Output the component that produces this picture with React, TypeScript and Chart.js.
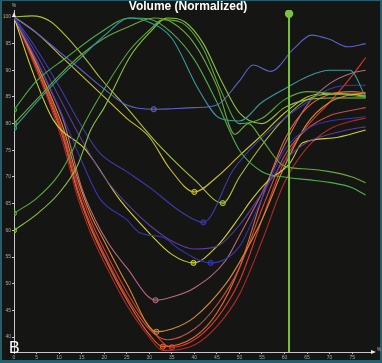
import { useEffect, useRef } from 'react';
import { Chart, registerables } from 'chart.js';

Chart.register(...registerables);

// ---- tick labels ----
const xTicks = [0, 5, 10, 15, 20, 25, 30, 35, 40, 45, 50, 55, 60, 65, 70, 75];
const yTicks = [40, 45, 50, 55, 60, 65, 70, 75, 80, 85, 90, 95, 100];
const titleText = 'Volume (Normalized)';
const panelLabel = 'B';
const unitLabel = '%';
const cursorX = 61;

// ---- series: [x (%), volume (normalized)] ----
const red1 = [[0, 100], [4, 93], [8, 85], [11, 78], [14, 69], [17, 62], [20, 56.5], [25, 48.5], [30, 42], [35, 38.1], [40, 39.5], [45, 43.5], [50, 50.5], [55, 62], [60, 73], [65, 79.5], [70, 84], [75, 89], [78, 92.4]];
const orange1 = [[0, 100], [4, 92.5], [8, 84], [11, 77], [14, 67.5], [17, 60.5], [20, 55], [25, 47], [30, 40.5], [33, 38.2], [40, 40], [45, 44.5], [50, 53], [55, 66], [60, 77], [65, 83], [70, 85.5], [75, 86], [78, 85.8]];
const orange2 = [[0, 100], [4, 93], [8, 85.5], [11, 79], [14, 70], [17, 63], [20, 58], [25, 50], [31.6, 41], [35, 41.5], [40, 43.7], [47, 50], [50, 54], [55, 62], [60, 72], [65, 80], [70, 84], [75, 85.5], [78, 85.7]];
const pink1 = [[0, 100], [4, 93.5], [8, 86.5], [11, 80.5], [15, 68], [18, 62], [21, 57.5], [25, 53], [31.4, 46.9], [35, 47.5], [40, 49.2], [47, 54.4], [50, 59], [55, 67], [60, 76], [65, 83.5], [70, 87.5], [75, 89.5], [78, 90]];
const red2 = [[0, 100], [4, 92], [8, 83.5], [11, 76], [14, 66.5], [17, 59.5], [20, 54], [25, 46], [30, 40], [33, 37.5], [40, 38.5], [45, 42], [50, 48], [55, 58], [60, 69], [65, 75.5], [70, 79], [75, 80.5], [78, 81]];
const red3 = [[0, 100], [4, 92.5], [8, 84.5], [11, 77.5], [14, 68], [17, 61], [20, 55.5], [25, 47.5], [30, 41.5], [34, 39.5], [40, 41.5], [45, 46], [50, 53], [55, 64], [60, 74], [65, 79], [70, 81.5], [75, 82.5], [78, 83]];
const blue1 = [[0, 100], [5, 97], [10, 93.5], [15, 90], [20, 86.5], [25, 83.5], [31, 82.7], [35, 82.8], [40, 83], [45, 83.5], [50, 88], [53, 91], [57, 89.8], [62, 94], [66, 96.6], [70, 95.8], [74, 94.4], [78, 95]];
const blue2 = [[0, 100], [5, 94], [10, 87], [15, 79.5], [19, 74.5], [25, 71], [30, 68.1], [37.5, 63.2], [42, 61.5], [48.6, 71.3], [54.5, 77], [60, 81], [65, 84], [70, 86.5], [75, 87.2], [78, 87.2]];
const blue3 = [[0, 100], [5, 92], [10, 83], [15, 73], [19, 66], [25, 62], [28, 59.5], [33, 58.7], [37, 56.3], [43.6, 53.9], [50, 57], [55, 66], [60, 75], [65, 79], [70, 80.5], [75, 81], [78, 81.3]];
const purple1 = [[0, 100], [5, 93], [10, 85], [15, 77], [20, 70], [25, 65], [30, 61], [35, 58], [40, 56.5], [45, 57], [50, 61], [55, 67], [60, 73], [65, 76.5], [70, 78], [75, 79], [78, 79.4]];
const yellow1 = [[0, 100], [5, 97], [10, 93], [15, 89], [20, 85], [25, 81], [30, 77.5], [34.6, 71.5], [40, 67.2], [45, 70], [50, 74], [54.5, 77.5], [60, 82], [65, 85], [70, 85.7], [75, 85.5], [78, 85.3]];
const olive1 = [[0, 100], [4, 100.2], [8, 99.2], [12, 96], [16, 92], [19, 88.7], [25, 83], [31, 77], [35, 73.5], [40, 69.5], [46.3, 65.1], [50, 70], [55, 76], [60, 81], [65, 84.5], [70, 85.5], [75, 85.5], [78, 85]];
const yellow2 = [[0, 100], [4, 90], [8.7, 80.7], [16, 75], [23.5, 65.7], [30, 59.5], [35, 55.5], [39.8, 53.9], [45, 57], [50, 62.5], [52.3, 65.3], [56, 69], [61.2, 72.6], [64, 76.4], [70.7, 77.3], [78, 78.8]];
const teal1 = [[0, 79.2], [5, 84], [10, 88.5], [15, 92.5], [20, 96.5], [25.7, 99.8], [30, 99], [35, 96], [41, 86.3], [45.7, 81], [50, 80.5], [55, 84], [60, 86.5], [65, 88.8], [70, 90], [74.5, 90], [78, 85]];
const green1 = [[0, 82.6], [5, 88], [11.8, 92.5], [19, 97], [25.7, 99.8], [30, 99.6], [35, 97], [40, 92], [45, 84], [50, 75], [55, 71], [60, 70], [65, 69.5], [70, 69], [75, 68], [78, 66.6]];
const green2 = [[0, 80], [5, 84.5], [10, 89], [15, 93], [20, 96], [25, 98], [31, 99.8], [35, 99], [40, 95], [45, 87], [49, 78], [52, 80], [55, 77], [60, 72], [65, 71.5], [70, 71], [75, 70], [78, 68.9]];
const green3 = [[0, 63.2], [5, 66], [10, 70.5], [13, 75], [15, 79], [20, 86.5], [25.7, 93.8], [30, 97.5], [33, 99.5], [37, 99], [42, 94], [46, 86], [50, 80], [55, 81], [60, 84.5], [65, 86], [70, 85.7], [78, 85]];
const lime1 = [[0, 60], [5, 63], [10, 67], [14, 72], [17, 78.8], [20, 83], [25.7, 92.5], [30, 97], [34, 99.8], [38, 99], [42, 95], [46, 88], [50, 82], [55, 80], [60, 83], [65, 84.5], [70, 84.8], [78, 84.8]];

// index of the marked point of each series (-1 = none)
const series = [
  { pts: teal1, color: '#3a9a9c', marker: 0 },
  { pts: green1, color: '#4cae4e', marker: 0 },
  { pts: green2, color: '#6aa83c', marker: 0 },
  { pts: green3, color: '#5aa838', marker: 0 },
  { pts: lime1, color: '#8cc040', marker: 0 },
  { pts: blue1, color: '#5a64c8', marker: 6 },
  { pts: blue2, color: '#3c3caa', marker: 8 },
  { pts: blue3, color: '#3636b2', marker: 9 },
  { pts: purple1, color: '#5a3c9c', marker: -1 },
  { pts: yellow1, color: '#c8c030', marker: 8 },
  { pts: olive1, color: '#a8c040', marker: 10 },
  { pts: yellow2, color: '#d0d038', marker: 7 },
  { pts: pink1, color: '#b86a82', marker: 8 },
  { pts: orange2, color: '#d88a30', marker: 8 },
  { pts: red3, color: '#c85040', marker: -1 },
  { pts: red2, color: '#b02a2a', marker: -1 },
  { pts: orange1, color: '#e8682a', marker: 9 },
  { pts: red1, color: '#d83a2e', marker: 9 },
];

const X_MIN = 0;
const X_MAX = 79.4;
const Y_MIN = 37.2;
const Y_MAX = 101.3;

function withAlpha(hex: string, a: number) {
  const n = parseInt(hex.slice(1), 16);
  return `rgba(${(n >> 16) & 255},${(n >> 8) & 255},${n & 255},${a})`;
}

const overlay = {
  id: 'overlay',
  beforeDraw(chart: any) {
    const { ctx, width, height } = chart;
    ctx.save();
    ctx.fillStyle = '#22606e';
    ctx.fillRect(0, 0, width, height);
    ctx.fillStyle = '#151513';
    ctx.fillRect(2, 1, width - 4, height - 4);
    ctx.restore();
  },
  afterDraw(chart: any) {
    const { ctx, chartArea } = chart;
    const xs = chart.scales.x;
    const ys = chart.scales.y;
    ctx.save();
    // title
    ctx.fillStyle = '#ffffff';
    ctx.font = "bold 12px 'Liberation Sans', Arial, sans-serif";
    ctx.textAlign = 'center';
    ctx.textBaseline = 'middle';
    ctx.fillText(titleText, 188, 7);
    // panel label
    ctx.font = "16px 'Liberation Sans', Arial, sans-serif";
    ctx.textAlign = 'left';
    ctx.textBaseline = 'alphabetic';
    ctx.fillText(panelLabel, 9, 353);
    // axis arrows
    const ax = xs.getPixelForValue(0);
    const ay = ys.getPixelForValue(Y_MIN);
    ctx.fillStyle = '#e8e8e8';
    ctx.beginPath();
    ctx.moveTo(ax, chartArea.top + 2);
    ctx.lineTo(ax - 2, chartArea.top + 7);
    ctx.lineTo(ax + 2, chartArea.top + 7);
    ctx.closePath();
    ctx.fill();
    ctx.beginPath();
    ctx.moveTo(chartArea.right + 4, ay);
    ctx.lineTo(chartArea.right - 1, ay - 2);
    ctx.lineTo(chartArea.right - 1, ay + 2);
    ctx.closePath();
    ctx.fill();
    // unit labels
    ctx.fillStyle = '#b0b0b0';
    ctx.font = "5px 'Liberation Sans', Arial, sans-serif";
    ctx.textAlign = 'center';
    ctx.textBaseline = 'middle';
    ctx.fillText(unitLabel, ax, 6);
    ctx.fillText(unitLabel, chartArea.right + 7, ay - 2);
    ctx.restore();
  },
};

export default function App() {
  const ref = useRef<HTMLCanvasElement | null>(null);

  useEffect(() => {
    document.body.style.margin = '0';
    const canvas = ref.current;
    if (!canvas) return;

    const datasets: any[] = series.map((s) => ({
      data: s.pts.map(([x, y]) => ({ x, y })),
      borderColor: s.color,
      borderWidth: 1.1,
      cubicInterpolationMode: 'monotone',
      pointRadius: (c: any) => (c.dataIndex === s.marker ? 2.6 : 0),
      pointBorderWidth: 1,
      pointBorderColor: s.color,
      pointBackgroundColor: withAlpha(s.color, 0.35),
      fill: false,
    }));

    datasets.push({
      data: [
        { x: cursorX, y: Y_MIN },
        { x: cursorX, y: 100.6 },
      ],
      borderColor: '#7cc242',
      borderWidth: 2,
      pointRadius: [0, 3.2],
      pointBackgroundColor: '#7cc242',
      pointBorderColor: '#7cc242',
      order: -1,
      fill: false,
    });

    const chart = new Chart(canvas, {
      type: 'line',
      data: { datasets },
      plugins: [overlay],
      options: {
        animation: false,
        responsive: false,
        devicePixelRatio: 1,
        events: [],
        layout: { padding: { left: 0, right: 10, top: 10, bottom: 0 } },
        plugins: {
          legend: { display: false },
          tooltip: { enabled: false },
          title: { display: false },
        },
        scales: {
          x: {
            type: 'linear',
            min: X_MIN,
            max: X_MAX,
            afterFit: (s: any) => {
              s.height = 11;
            },
            afterBuildTicks: (s: any) => {
              s.ticks = xTicks.map((v) => ({ value: v }));
            },
            grid: { display: true, drawOnChartArea: false, drawTicks: true, tickLength: 2, color: '#c8c8c8' },
            border: { display: true, color: '#c8c8c8', dash: [2, 1.5], width: 1 },
            ticks: {
              autoSkip: false,
              maxRotation: 0,
              padding: 1,
              color: '#a8a8a8',
              font: { size: 5, family: "'Liberation Sans', Arial, sans-serif" },
            },
          },
          y: {
            type: 'linear',
            min: Y_MIN,
            max: Y_MAX,
            afterFit: (s: any) => {
              s.width = 14;
            },
            afterBuildTicks: (s: any) => {
              s.ticks = yTicks.map((v) => ({ value: v }));
            },
            grid: { display: true, drawOnChartArea: false, drawTicks: true, tickLength: 2, color: '#c8c8c8' },
            border: { display: true, color: '#c8c8c8', dash: [2, 1.5], width: 1 },
            ticks: {
              autoSkip: false,
              padding: 1,
              color: '#a8a8a8',
              font: { size: 5, family: "'Liberation Sans', Arial, sans-serif" },
            },
          },
        },
      } as any,
    });

    return () => chart.destroy();
  }, []);

  return (
    <div style={{ position: 'fixed', left: 0, top: 0, width: 382, height: 363 }}>
      <canvas ref={ref} width={382} height={363} style={{ display: 'block', width: 382, height: 363 }} />
    </div>
  );
}
